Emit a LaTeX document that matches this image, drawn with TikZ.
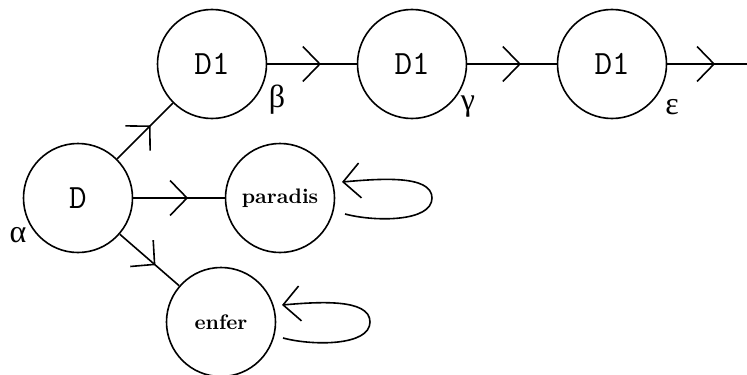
\documentclass[tikz,border=0pt]{standalone}
\usepackage{fontspec}
\newfontfamily\greekfont{Liberation Serif}
\usetikzlibrary{positioning,arrows.meta,decorations.markings}

\tikzset{
  barbe/.tip={Straight Barb[length=8.5pt,width=17.5pt]},
  etat/.style={circle,draw,line width=0.8pt,minimum size=54.5pt,inner sep=0pt},
  lettre/.style={inner sep=0pt,font=\greekfont\fontsize{16}{16}\selectfont},
  fleche/.style={line width=0.8pt,postaction={decorate,decoration={markings,
      mark=at position 0.6 with {\arrow[line width=0.8pt]{barbe}}}}},
  boucle/.style={line width=0.8pt,-barbe},
}

\begin{document}
\begin{tikzpicture}[x=0.5pt,y=-0.5pt]
\useasboundingbox (0,0) rectangle (747,374);

% les etats
\begin{scope}[font=\ttfamily\fontsize{17}{20}\selectfont]
\node[etat] (d) at (78,198) {D};
\node[etat] (d1a) at (212,64) {D1};
\node[etat] (d1b) at (412,64) {D1};
\node[etat] (d1c) at (612,64) {D1};
\end{scope}
\begin{scope}[font=\bfseries\fontsize{10.5}{12}\selectfont]
\node[etat] (paradis) at (280,198) {paradis};
\node[etat] (enfer) at (221,322) {enfer};
\end{scope}
\coordinate (sortie) at (747,64);

% les lettres
\node[lettre] (alpha) at (18,235) {α};
\node[lettre] (beta) at (277,100) {β};
\node[lettre] (gamma) at (468,107) {γ};
\node[lettre] (eps) at (672,107) {ε};

% transitions
\draw[fleche] (d) -- (d1a);
\draw[fleche] (d) -- (paradis);
\draw[fleche] (d) -- (enfer);
\draw[fleche] (d1a) -- (d1b);
\draw[fleche] (d1b) -- (d1c);
\draw[fleche] (d1c) -- (sortie);

% boucles
\draw[boucle] ([shift={(65,16)}]paradis.center) .. controls +(30,8) and +(0,24) ..
  ([shift={(152,0)}]paradis.center) .. controls +(0,-24) and +(35,-3) ..
  ([shift={(62,-16)}]paradis.center);
\draw[boucle] ([shift={(62,16)}]enfer.center) .. controls +(30,8) and +(0,24) ..
  ([shift={(149,0)}]enfer.center) .. controls +(0,-24) and +(35,-3) ..
  ([shift={(61,-17)}]enfer.center);
\end{tikzpicture}
\end{document}
